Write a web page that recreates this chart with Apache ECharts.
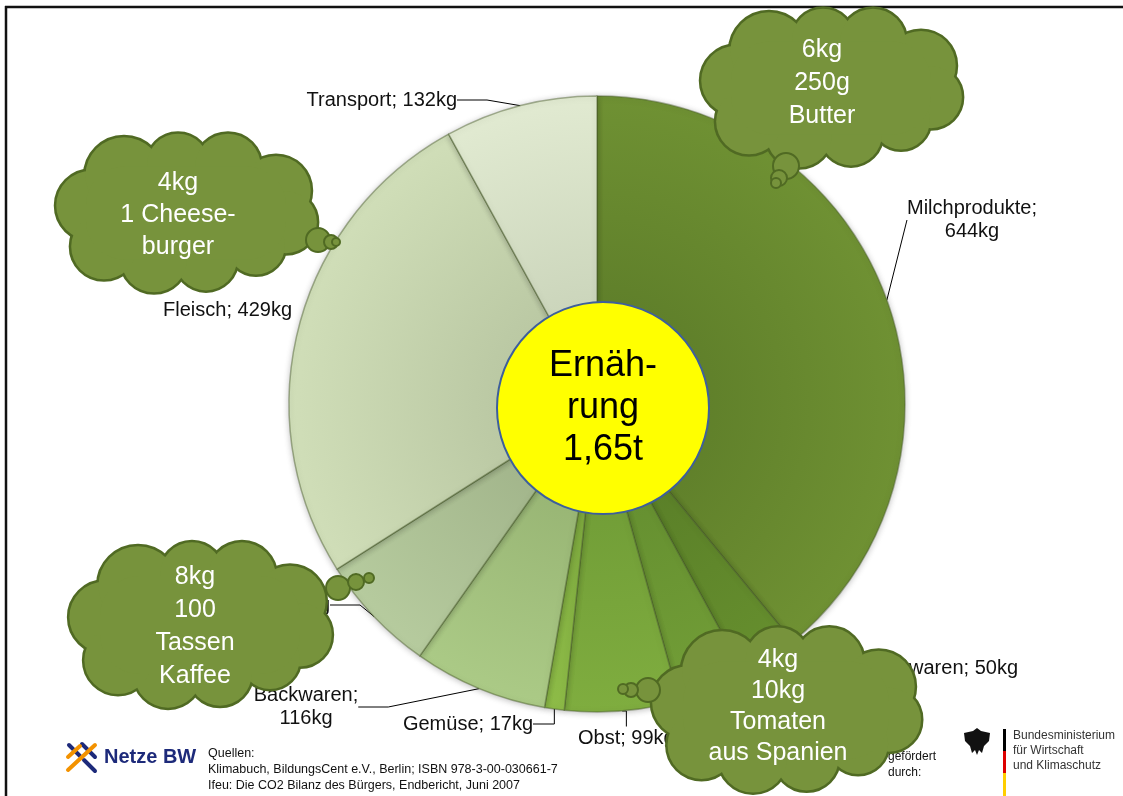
<!DOCTYPE html>
<html>
<head>
<meta charset="utf-8">
<script src="https://cdn.jsdelivr.net/npm/echarts@6/dist/echarts.min.js"></script>
<style>
  html, body { margin: 0; padding: 0; background: #fff; }
  #chart { width: 1123px; height: 796px; }
</style>
</head>
<body>
<div id="chart"></div>
<script>
// Daten: CO2-Bilanz Ernährung (kg pro Jahr)
const categories = ['Milchprodukte', 'Süßwaren', 'Eier', 'Obst', 'Gemüse', 'Backwaren', 'Getränke', 'Fleisch', 'Transport']
const valuesKg = [644, 50, 60, 99, 17, 116, 103, 429, 132]
const wrapLabel = ['Milchprodukte', 'Backwaren'] // Beschriftung zweizeilig
const totalTonnes = 1.65

// Wolken-Texte
const cloudTexts = [
  ['6kg', '250g', 'Butter'],
  ['4kg', '1 Cheese-', 'burger'],
  ['8kg', '100', 'Tassen', 'Kaffee'],
  ['4kg', '10kg', 'Tomaten', 'aus Spanien']
]

const FONT = 'Liberation Sans, Arial, sans-serif'
const PIE_CENTER = [597, 404]
const PIE_R = 308

/* Farben der Segmente (außen, innen) */
const sliceColors = [
  ['#6f9133', '#5f7f2a'],
  ['#668f2e', '#5a7f28'],
  ['#729e37', '#658f30'],
  ['#7fad3f', '#719d37'],
  ['#8dbb47', '#7eaa3f'],
  ['#abca86', '#98b574'],
  ['#b6cb9e', '#a2b58b'],
  ['#d0deb8', '#bac8a3'],
  ['#e1eAd1', '#cbd5bb']
]

/* Position der Beschriftungen: [x, y, align] */
const labelPos = [
  [972, 220, 'center'],
  [1018, 668, 'right'],
  [790, 745, 'center'],
  [578, 738, 'left'],
  [533, 724, 'right'],
  [306, 707, 'center'],
  [330, 605, 'right'],
  [292, 310, 'right'],
  [457, 100, 'right']
]

const pieData = categories.map((name, i) => ({
  name: name,
  value: valuesKg[i],
  itemStyle: {
    color: {
      type: 'radial',
      x: PIE_CENTER[0],
      y: PIE_CENTER[1],
      r: PIE_R,
      global: true,
      colorStops: [
        { offset: 0.3, color: sliceColors[i][1] },
        { offset: 1, color: sliceColors[i][0] }
      ]
    }
  },
  labelLine: name === 'Milchprodukte'
    ? { show: true, length2: 0 }
    : { show: name !== 'Fleisch' }
}))

/* Wolke aus Kreisen zusammensetzen */
const bumps = [
  [-95, -8, 36], [-62, -40, 40], [-8, -52, 32], [42, -50, 34], [90, -24, 36],
  [100, 10, 32], [70, 35, 30], [20, 50, 32], [-32, 50, 34], [-82, 36, 34]
]
const CLOUD_FILL = '#77933c'
const CLOUD_STROKE = '#506a23'

function cloud(cx, cy, sx, sy, lines, tx, ty, lineH, bubbles) {
  const els = []
  const rs = (sx + sy) / 2
  // 1. Umriss
  bumps.forEach(b => {
    els.push({
      type: 'circle', z: 100,
      shape: { cx: cx + b[0] * sx, cy: cy + b[1] * sy, r: b[2] * rs },
      style: { fill: CLOUD_FILL, stroke: CLOUD_STROKE, lineWidth: 5 }
    })
  })
  // 2. Füllung darüber
  bumps.forEach(b => {
    els.push({
      type: 'circle', z: 101,
      shape: { cx: cx + b[0] * sx, cy: cy + b[1] * sy, r: b[2] * rs },
      style: { fill: CLOUD_FILL }
    })
  })
  els.push({
    type: 'rect', z: 101,
    shape: { x: cx - 100 * sx, y: cy - 50 * sy, width: 200 * sx, height: 100 * sy, r: 40 * rs },
    style: { fill: CLOUD_FILL }
  })
  // kleine Blasen
  bubbles.forEach(b => {
    els.push({
      type: 'circle', z: 102,
      shape: { cx: b[0], cy: b[1], r: b[2] },
      style: { fill: CLOUD_FILL, stroke: CLOUD_STROKE, lineWidth: 2 }
    })
  })
  els.push({
    type: 'text', z: 103,
    x: tx, y: ty,
    style: {
      text: lines.join('\n'),
      fill: '#ffffff',
      font: '25px ' + FONT,
      lineHeight: lineH,
      align: 'center', textAlign: 'center',
      verticalAlign: 'middle', textVerticalAlign: 'middle'
    }
  })
  return els
}

const graphics = [
  // Rahmen
  { type: 'line', z: 50, shape: { x1: 5, y1: 7, x2: 1123, y2: 7 }, style: { stroke: '#111', lineWidth: 2.5 } },
  { type: 'line', z: 50, shape: { x1: 6, y1: 6, x2: 6, y2: 796 }, style: { stroke: '#111', lineWidth: 2.5 } }
]
  .concat(cloud(831, 88, 1.0, 0.93, cloudTexts[0], 822, 83, 33, [[786, 166, 13], [779, 178, 8], [776, 183, 5]]))
  .concat(cloud(186, 213, 1.0, 0.93, cloudTexts[1], 178, 215, 32, [[318, 240, 12], [331, 242, 7], [336, 242, 4]]))
  .concat(cloud(200, 625, 1.0, 0.98, cloudTexts[2], 195, 627, 33, [[338, 588, 12], [356, 582, 8], [369, 578, 5]]))
  .concat(cloud(786, 710, 1.03, 0.97, cloudTexts[3], 778, 707, 31, [[648, 690, 12], [631, 690, 7], [623, 689, 5]]))
  .concat([
    // Netze BW Logo
    { type: 'line', z: 60, shape: { x1: 69, y1: 745, x2: 80, y2: 756 }, style: { stroke: '#1d2a7a', lineWidth: 4, lineCap: 'round' } },
    { type: 'line', z: 60, shape: { x1: 84, y1: 760, x2: 95, y2: 771 }, style: { stroke: '#1d2a7a', lineWidth: 4, lineCap: 'round' } },
    { type: 'line', z: 60, shape: { x1: 82, y1: 744, x2: 95, y2: 757 }, style: { stroke: '#1d2a7a', lineWidth: 4, lineCap: 'round' } },
    { type: 'line', z: 61, shape: { x1: 68, y1: 770, x2: 95, y2: 745 }, style: { stroke: '#f39200', lineWidth: 4, lineCap: 'round' } },
    { type: 'line', z: 61, shape: { x1: 68, y1: 757, x2: 80, y2: 746 }, style: { stroke: '#f39200', lineWidth: 4, lineCap: 'round' } },
    { type: 'text', z: 60, x: 104, y: 757, style: { text: 'Netze BW', fill: '#1d2a7a', font: 'bold 20px ' + FONT, verticalAlign: 'middle', textVerticalAlign: 'middle' } },
    // Quellen
    {
      type: 'text', z: 60, x: 208, y: 746,
      style: {
        text: 'Quellen:\nKlimabuch, BildungsCent e.V., Berlin; ISBN 978-3-00-030661-7\nIfeu: Die CO2 Bilanz des Bürgers, Endbericht, Juni 2007',
        fill: '#111', font: '12.5px ' + FONT, lineHeight: 16
      }
    },
    // gefördert durch
    { type: 'text', z: 60, x: 888, y: 749, style: { text: 'gefördert\ndurch:', fill: '#111', font: '12px ' + FONT, lineHeight: 16 } },
    // BMWK
    {
      type: 'polygon', z: 60,
      shape: { points: [[977, 728], [981, 731], [990, 733], [989, 741], [984, 746], [982, 753], [979, 750], [977, 755], [975, 750], [972, 753], [970, 746], [965, 741], [964, 733], [973, 731]] },
      style: { fill: '#111' }
    },
    { type: 'rect', z: 60, shape: { x: 1003, y: 729, width: 3, height: 22 }, style: { fill: '#000' } },
    { type: 'rect', z: 60, shape: { x: 1003, y: 751, width: 3, height: 22 }, style: { fill: '#dd0000' } },
    { type: 'rect', z: 60, shape: { x: 1003, y: 773, width: 3, height: 23 }, style: { fill: '#ffce00' } },
    {
      type: 'text', z: 60, x: 1013, y: 728,
      style: {
        text: 'Bundesministerium\nfür Wirtschaft\nund Klimaschutz',
        fill: '#333', font: '12px ' + FONT, lineHeight: 15
      }
    }
  ])

const myChart = echarts.init(document.getElementById('chart'))
myChart.setOption({
  animation: false,
  backgroundColor: '#ffffff',
  series: [
    {
      name: 'Ernährung',
      type: 'pie',
      center: PIE_CENTER,
      radius: [0, PIE_R],
      startAngle: 90,
      clockwise: true,
      avoidLabelOverlap: false,
      z: 2,
      itemStyle: {
        borderColor: 'rgba(70, 90, 40, 0.45)',
        borderWidth: 1.5,
        shadowBlur: 6,
        shadowColor: 'rgba(0, 0, 0, 0.25)',
        shadowOffsetY: 1
      },
      label: {
        color: '#111',
        fontFamily: FONT,
        fontSize: 20,
        lineHeight: 23,
        formatter: p => wrapLabel.includes(p.name) ? p.name + ';\n' + p.value + 'kg' : p.name + '; ' + p.value + 'kg'
      },
      labelLine: {
        lineStyle: { color: '#000', width: 1 }
      },
      labelLayout: params => {
        const pos = labelPos[params.dataIndex]
        return { x: pos[0], y: pos[1], align: pos[2], verticalAlign: 'middle' }
      },
      emphasis: { disabled: true },
      data: pieData
    },
    {
      name: 'Gesamt',
      type: 'pie',
      center: [603, 408],
      radius: [0, 106],
      z: 5,
      silent: true,
      itemStyle: {
        color: '#ffff00',
        borderColor: '#3d5f9c',
        borderWidth: 2
      },
      label: {
        position: 'center',
        color: '#000',
        fontFamily: FONT,
        fontSize: 36,
        lineHeight: 42,
        formatter: () => 'Ernäh-\nrung\n' + String(totalTonnes).replace('.', ',') + 't'
      },
      labelLine: { show: false },
      emphasis: { disabled: true },
      data: [{ name: 'Ernährung', value: totalTonnes }]
    }
  ],
  graphic: { elements: graphics }
})
</script>
</body>
</html>
